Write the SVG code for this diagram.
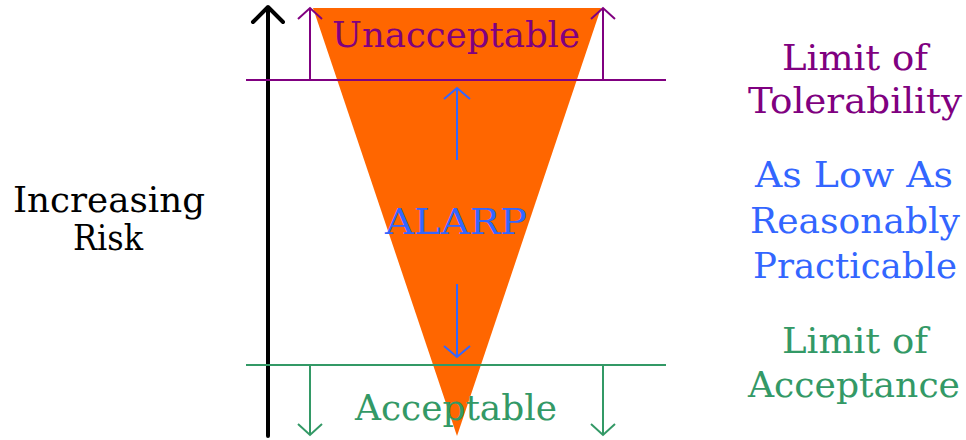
<svg xmlns="http://www.w3.org/2000/svg" width="966" height="440" viewBox="0 0 966 440">
<style>
text{font-family:"DejaVu Serif","Liberation Serif",serif;font-size:36px;text-anchor:middle}
.pu{fill:#800080}.gr{fill:#339966}.bl{fill:#3366FF}.bk{fill:#000}
.lp{stroke:#800080;stroke-width:2;fill:none}
.lg{stroke:#339966;stroke-width:2;fill:none}
.lb{stroke:#3366FF;stroke-width:2;fill:none}
</style>
<rect width="966" height="440" fill="#fff"/>
<g id="funnel"><polygon points="313,8 601,8 457,436" fill="#FF6600"/></g>
<g id="connectors">
<path d="M268,436 V9 M253,22 L268,7 L283,22" stroke="#000" stroke-width="4" stroke-linecap="round" stroke-linejoin="round" fill="none"/>
<path class="lp" d="M246,80 H666"/>
<path class="lp" d="M310,80 V9 M298,19 L310,8 L322,19"/>
<path class="lp" d="M603,80 V9 M591,19 L603,8 L615,19"/>
<path class="lg" d="M246,365 H666"/>
<path class="lg" d="M310,365 V435 M298,424 L310,435 L322,424"/>
<path class="lg" d="M603,365 V435 M591,424 L603,435 L615,424"/>
<path class="lb" d="M457,160 V88 M444,99 L457,88 L470,99"/>
<path class="lb" d="M457,284 V357 M444,346 L457,357 L470,346"/>
</g>
<g id="unacceptable"><text class="pu" x="456" y="47" textLength="248" lengthAdjust="spacingAndGlyphs">Unacceptable</text></g>
<g id="alarp"><text class="bl" x="456" y="234" textLength="142" lengthAdjust="spacingAndGlyphs">ALARP</text></g>
<g id="acceptable"><text class="gr" x="456" y="420" textLength="202" lengthAdjust="spacingAndGlyphs">Acceptable</text></g>
<g id="increasing-risk">
<text class="bk" x="109" y="212" textLength="192" lengthAdjust="spacingAndGlyphs">Increasing</text>
<text class="bk" x="108" y="250" textLength="70" lengthAdjust="spacingAndGlyphs">Risk</text>
</g>
<g id="limit-tolerability">
<text class="pu" x="855" y="70" textLength="146" lengthAdjust="spacingAndGlyphs">Limit of</text>
<text class="pu" x="855" y="113" textLength="214" lengthAdjust="spacingAndGlyphs">Tolerability</text>
</g>
<g id="alarp-label">
<text class="bl" x="854" y="187" textLength="198" lengthAdjust="spacingAndGlyphs">As Low As</text>
<text class="bl" x="855" y="233" textLength="210" lengthAdjust="spacingAndGlyphs">Reasonably</text>
<text class="bl" x="855" y="278" textLength="204" lengthAdjust="spacingAndGlyphs">Practicable</text>
</g>
<g id="limit-acceptance">
<text class="gr" x="855" y="353" textLength="146" lengthAdjust="spacingAndGlyphs">Limit of</text>
<text class="gr" x="854" y="397" textLength="212" lengthAdjust="spacingAndGlyphs">Acceptance</text>
</g>
</svg>
